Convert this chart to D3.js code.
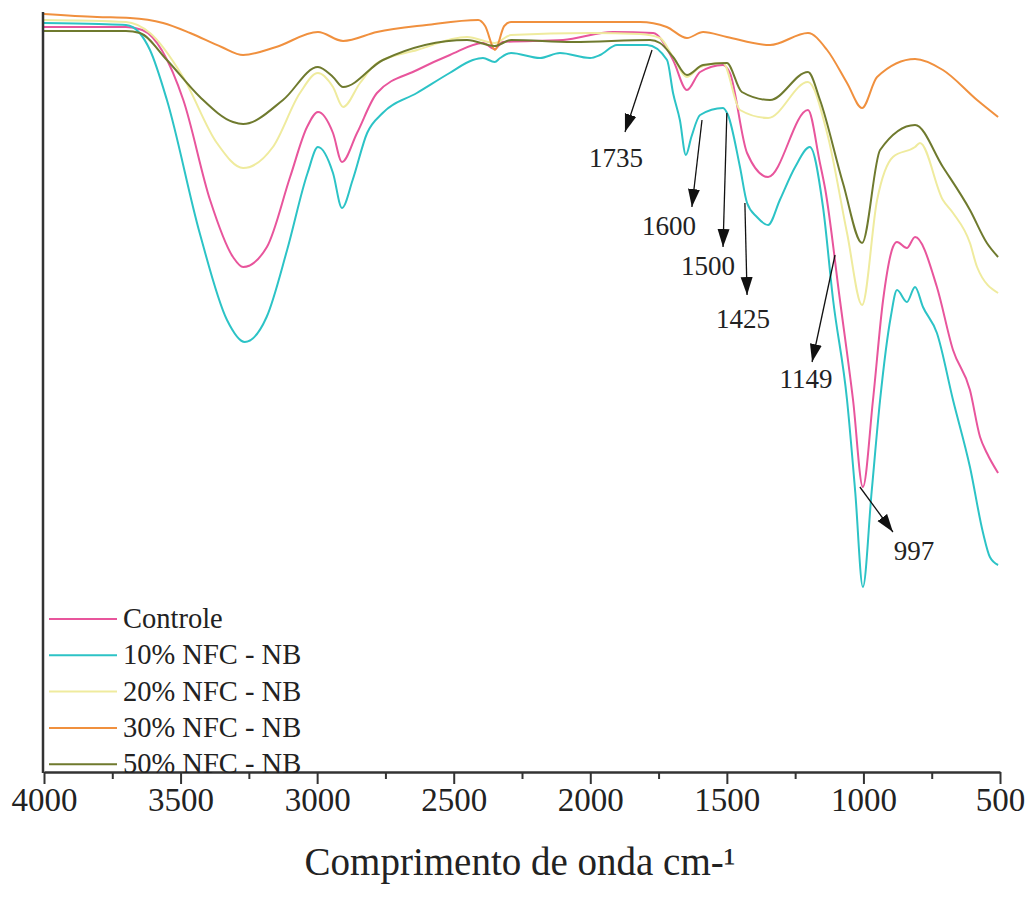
<!DOCTYPE html>
<html>
<head>
<meta charset="utf-8">
<script src="https://cdn.jsdelivr.net/npm/d3@7/dist/d3.min.js"></script>
<style>
  html, body { margin: 0; padding: 0; background: #fff; }
  svg { display: block; }
  text { font-family: "Liberation Serif", "Times New Roman", serif; fill: #222; }
</style>
</head>
<body>
<svg id="chart" width="1030" height="907"></svg>
<script>
// ---- Data (wavenumber cm-1, transmittance a.u.) ----
const seriesNames = ["Controle", "10% NFC - NB", "20% NFC - NB", "30% NFC - NB", "50% NFC - NB"];
const seriesColors = ["#e8559c", "#2cc3c6", "#efeb9e", "#f0903e", "#6f7a2e"];

const controle = [[4000,74.5],[3700,74.5],[3640,74.2],[3490,67.2],[3392,57.2],[3308,51.5],[3271,50.5],[3184,52.5],[3099,59.5],[3037,64.5],[2997,66.0],[2942,63.9],[2909,61.0],[2854,63.9],[2781,67.9],[2634,70.2],[2514,71.7],[2393,72.9],[2350,72.3],[2320,73.0],[2100,73.2],[1917,74.0],[1770,73.9],[1697,71.2],[1646,68.2],[1598,70.0],[1514,70.7],[1489,69.9],[1426,61.9],[1349,59.5],[1203,66.2],[1160,61.0],[1140,58.3],[1086,47.2],[1038,37.2],[1002,28.5],[965,37.2],[928,47.2],[892,52.5],[877,53.0],[841,52.4],[811,53.5],[731,48.5],[672,42.2],[610,38.2],[573,33.5],[548,31.9],[507,29.9]];

const nfc10 = [[4000,74.9],[3800,74.8],[3700,74.7],[3650,73.9],[3612,72.2],[3550,67.2],[3430,53.9],[3330,45.2],[3265,43.0],[3185,45.5],[3110,52.2],[3035,59.9],[2997,62.5],[2942,59.9],[2909,56.4],[2870,59.2],[2817,63.9],[2760,65.9],[2635,67.9],[2515,69.9],[2430,71.2],[2393,71.4],[2350,71.0],[2330,71.4],[2290,71.9],[2184,71.4],[2111,71.9],[2001,71.4],[1964,71.7],[1902,72.7],[1792,72.7],[1719,71.2],[1697,67.9],[1672,65.2],[1650,61.7],[1630,63.5],[1598,65.7],[1514,66.4],[1496,65.7],[1452,60.5],[1426,56.9],[1390,55.5],[1349,54.7],[1306,57.2],[1250,60.5],[1196,62.5],[1148,56.5],[1111,47.2],[1060,37.2],[1030,28.0],[1002,18.5],[970,28.0],[939,37.2],[900,45.5],[877,48.2],[841,47.0],[811,48.5],[782,46.5],[731,43.9],[672,37.2],[610,30.5],[562,23.9],[537,21.5],[507,20.7]];

const nfc20 = [[4000,75.2],[3700,75.0],[3612,73.9],[3491,69.5],[3367,62.9],[3271,60.4],[3162,62.5],[3063,67.9],[2997,69.9],[2942,68.5],[2905,66.5],[2843,68.9],[2781,70.9],[2634,72.2],[2451,73.5],[2350,72.9],[2290,73.7],[2000,73.9],[1818,73.8],[1745,73.4],[1697,71.5],[1646,69.5],[1598,70.5],[1514,70.9],[1452,66.2],[1349,65.4],[1203,69.0],[1133,63.9],[1060,53.9],[1005,46.7],[950,57.2],[892,61.5],[811,62.5],[793,62.9],[709,57.2],[672,55.9],[610,52.9],[584,50.5],[507,47.9]];

const nfc30 = [[4000,75.8],[3806,75.5],[3685,75.4],[3564,74.9],[3465,73.9],[3350,72.5],[3271,71.7],[3150,72.5],[2997,74.0],[2905,73.1],[2781,74.0],[2600,74.7],[2410,75.2],[2385,74.6],[2349,72.2],[2315,74.6],[2290,75.0],[2063,75.0],[1818,75.0],[1720,74.5],[1646,73.4],[1587,74.0],[1500,73.5],[1342,72.7],[1203,73.9],[1133,72.2],[1060,68.9],[1005,66.4],[950,69.5],[811,71.3],[709,70.2],[584,67.2],[507,65.5]];

const nfc50 = [[4000,74.1],[3700,74.1],[3649,73.9],[3550,71.2],[3429,67.5],[3308,65.0],[3271,64.8],[3125,67.2],[2997,70.5],[2942,69.5],[2905,68.5],[2759,71.2],[2451,73.2],[2350,72.6],[2290,73.2],[2063,73.0],[1781,73.2],[1745,72.9],[1697,71.5],[1646,69.7],[1587,70.7],[1500,70.9],[1445,68.0],[1342,67.2],[1203,70.0],[1159,67.2],[1075,58.9],[1005,52.9],[939,62.2],[811,64.7],[709,60.5],[610,56.2],[548,52.9],[507,51.5]];

const seriesData = [controle, nfc10, nfc20, nfc30, nfc50];

const xTicks = [4000, 3500, 3000, 2500, 2000, 1500, 1000, 500];
const xMinorTicks = [3750, 3250, 2750, 2250, 1750, 1250, 750];

// annotations: label, arrow start [w, v], arrow tip [w, v], label anchor [w, v]
const annLabels = ["1735", "1600", "1500", "1425", "1149", "997"];
const annFrom = [[1774,72.2],[1591,65.2],[1500,65.9],[1434,56.9],[1104,51.7],[1013,28.5]];
const annTo = [[1873,64.0],[1628,56.5],[1514,52.5],[1426,47.7],[1188,41.0],[892,24.0]];
const annText = [[1906,60.5],[1712,53.7],[1569,49.7],[1441,44.4],[1210,38.4],[815,21.2]];

const xTitle = "Comprimento de onda cm-¹";

// ---- Layout ----
const svg = d3.select("#chart");
const mLeft = 44, mRight = 1000, mTop = 12, mBottom = 772;

const x = d3.scaleLinear().domain([4000, 500]).range([mLeft, mRight]);
const y = d3.scaleLinear().domain([0, 76]).range([mBottom, mTop]);

// defs arrow marker
svg.append("defs").append("marker")
  .attr("id", "arrow")
  .attr("markerUnits", "userSpaceOnUse")
  .attr("markerWidth", 20).attr("markerHeight", 14)
  .attr("refX", 18).attr("refY", 7)
  .attr("orient", "auto")
  .append("path")
  .attr("d", "M0,1 L18,7 L0,13 Z")
  .attr("fill", "#111");

// lines
const line = d3.line()
  .x(d => x(d[0]))
  .y(d => y(d[1]))
  .curve(d3.curveMonotoneX);

svg.append("g").selectAll("path")
  .data(seriesData)
  .join("path")
  .attr("d", d => line(d))
  .attr("fill", "none")
  .attr("stroke", (d, i) => seriesColors[i])
  .attr("stroke-width", 2)
  .attr("stroke-linejoin", "round");

// annotations
const ann = svg.append("g");
annLabels.forEach((lab, i) => {
  ann.append("line")
    .attr("x1", x(annFrom[i][0])).attr("y1", y(annFrom[i][1]))
    .attr("x2", x(annTo[i][0])).attr("y2", y(annTo[i][1]))
    .attr("stroke", "#111").attr("stroke-width", 1.3)
    .attr("marker-end", "url(#arrow)");
  ann.append("text")
    .attr("x", x(annText[i][0])).attr("y", y(annText[i][1]))
    .attr("text-anchor", "middle")
    .attr("font-size", 27)
    .text(lab);
});

// axes
const xAxis = d3.axisBottom(x).tickValues(xTicks).tickSize(12).tickSizeOuter(0).tickPadding(4).tickFormat(d3.format("d"));
const gx = svg.append("g").attr("transform", `translate(0,${mBottom})`).call(xAxis);
gx.select(".domain").attr("stroke", "#333").attr("stroke-width", 2.5);
gx.selectAll(".tick line").attr("stroke", "#333").attr("stroke-width", 2);
gx.selectAll(".tick text").attr("font-size", 33).attr("font-family", "Liberation Serif").attr("fill", "#222");

const gxm = svg.append("g").attr("transform", `translate(0,${mBottom})`)
  .call(d3.axisBottom(x).tickValues(xMinorTicks).tickSize(7).tickFormat(""));
gxm.select(".domain").remove();
gxm.selectAll(".tick line").attr("stroke", "#333").attr("stroke-width", 2);

svg.append("line")
  .attr("x1", mLeft - 1).attr("x2", mLeft - 1)
  .attr("y1", mTop).attr("y2", mBottom + 1)
  .attr("stroke", "#333").attr("stroke-width", 2.5);

// x title
svg.append("text")
  .attr("x", 520).attr("y", 875)
  .attr("text-anchor", "middle")
  .attr("font-size", 39)
  .text(xTitle);

// legend
const lg = svg.append("g");
seriesNames.forEach((name, i) => {
  const yy = 619 + i * 36.3;
  lg.append("line")
    .attr("x1", 49).attr("x2", 117).attr("y1", yy).attr("y2", yy)
    .attr("stroke", seriesColors[i]).attr("stroke-width", 2);
  lg.append("text")
    .attr("x", 123).attr("y", yy + 9)
    .attr("font-size", 28.5)
    .text(name);
});
</script>
</body>
</html>
